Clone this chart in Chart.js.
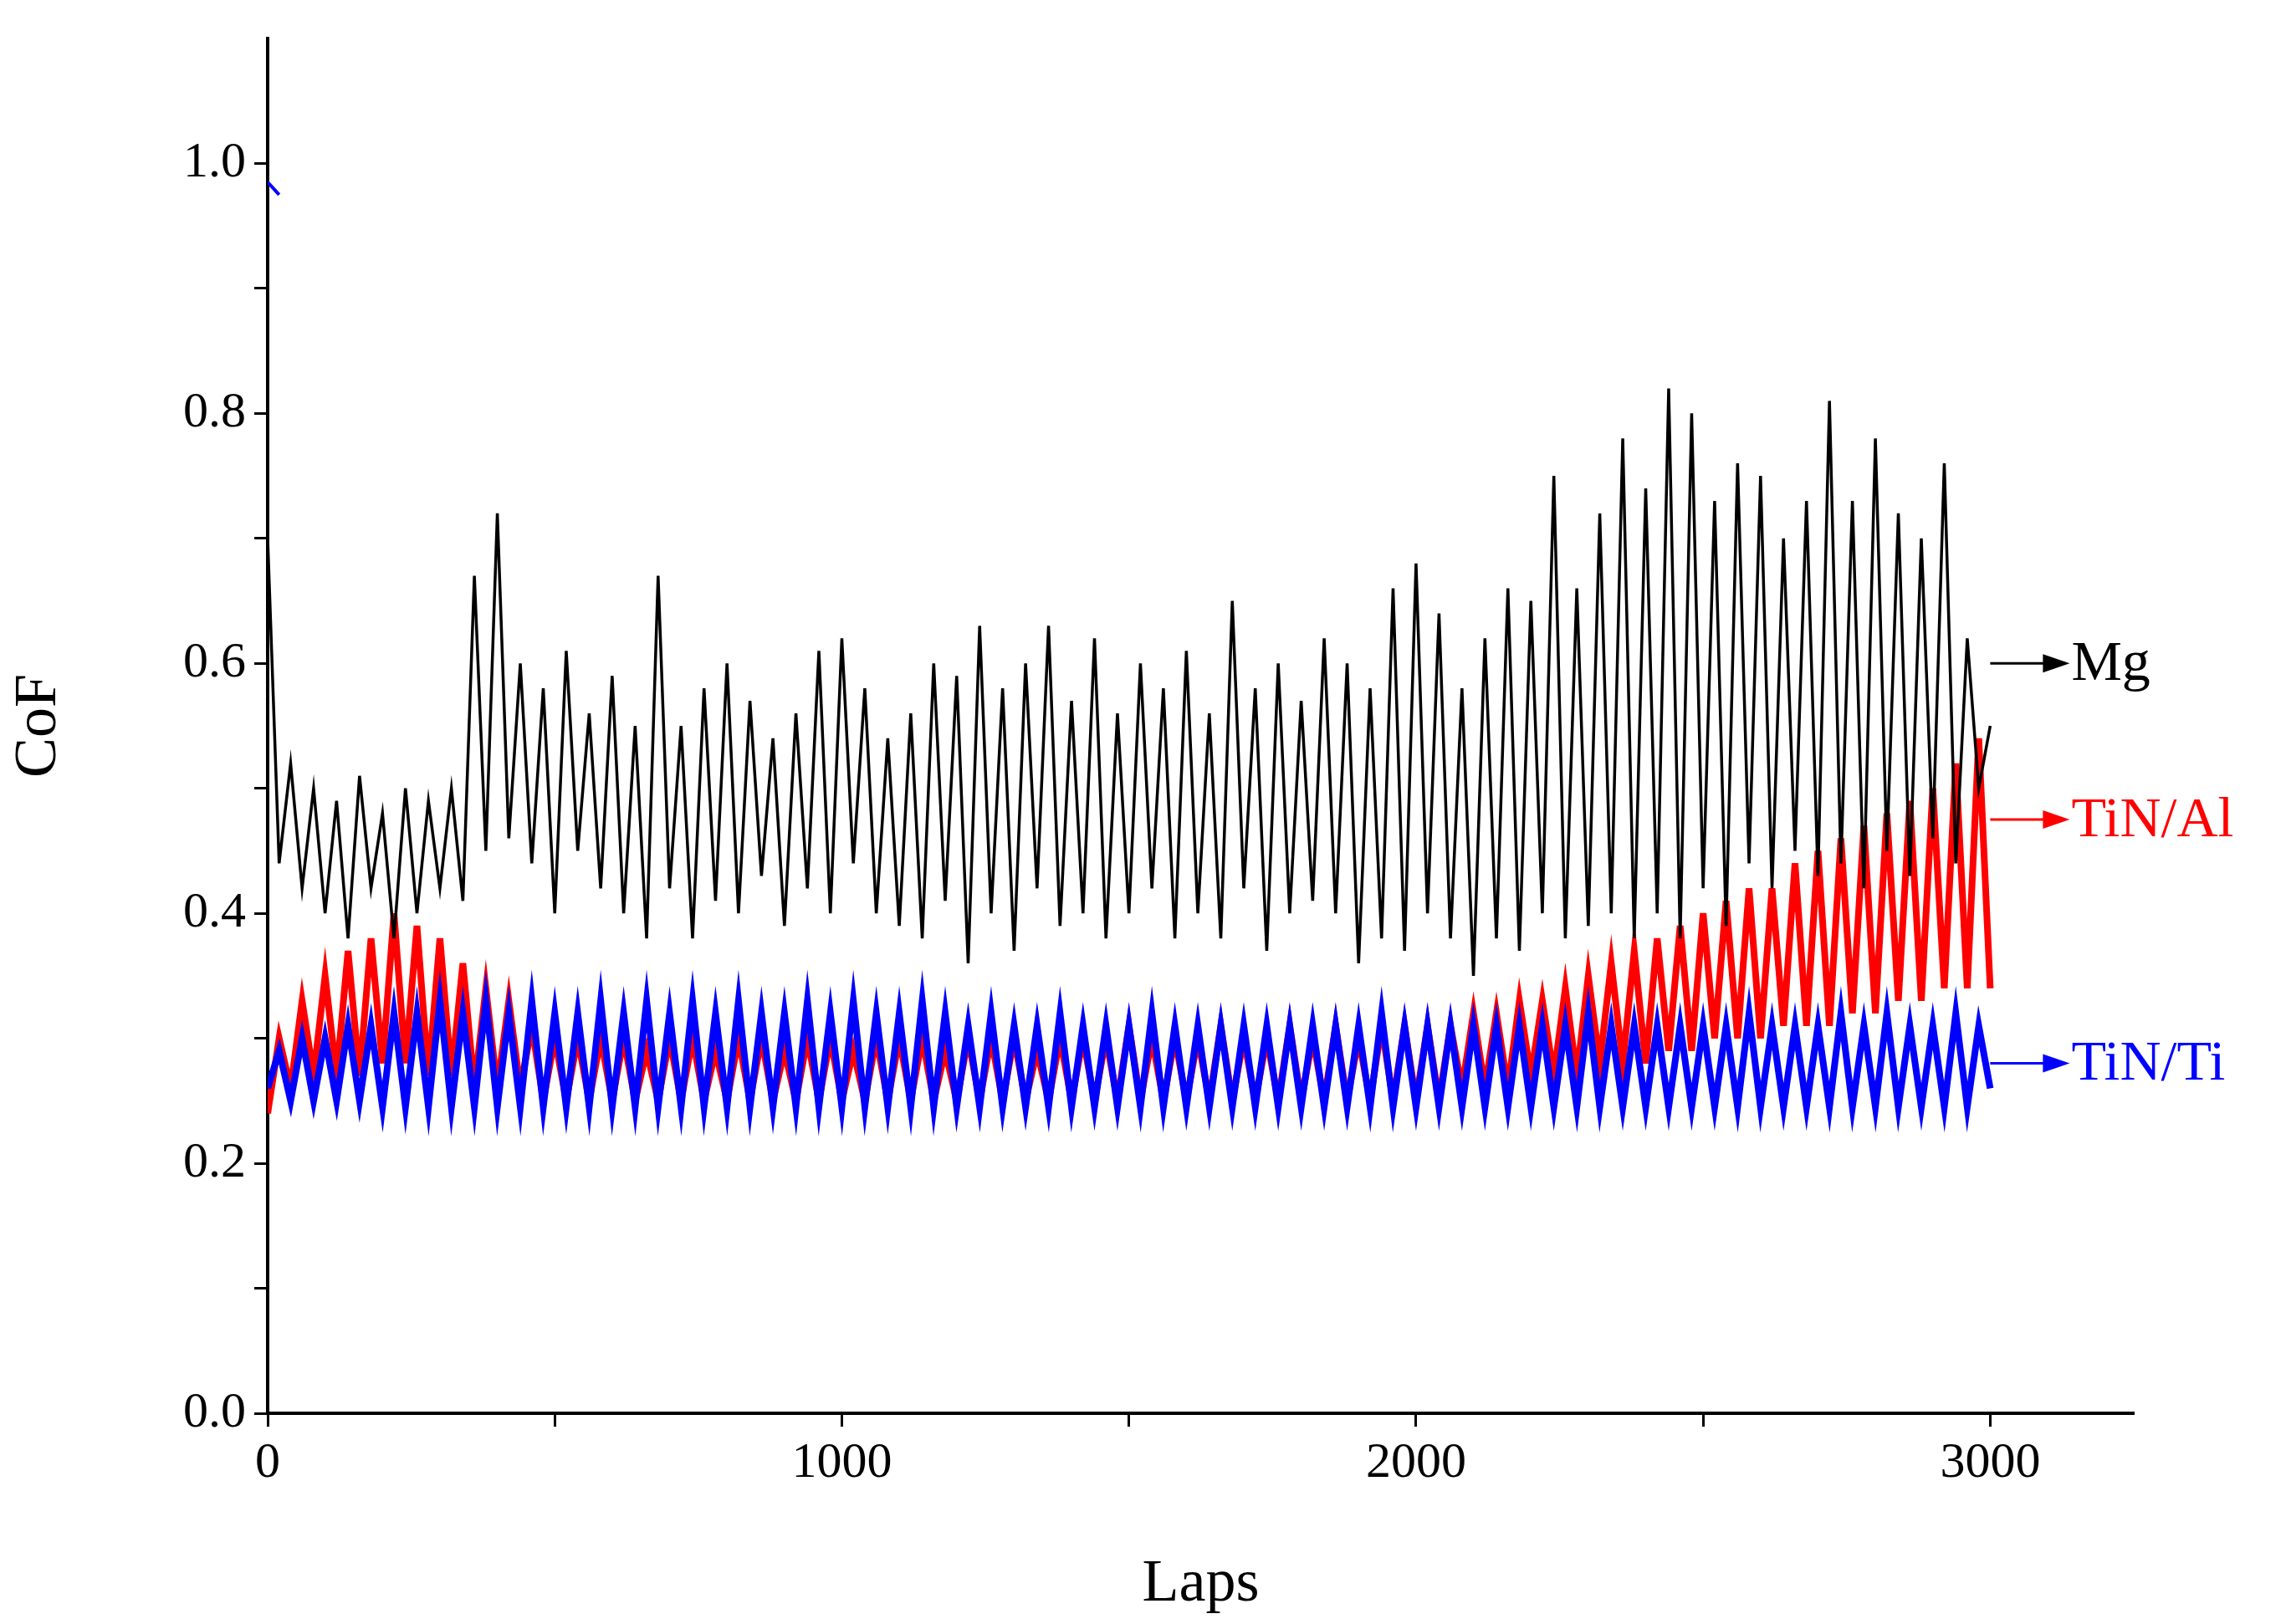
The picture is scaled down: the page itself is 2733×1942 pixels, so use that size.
<!DOCTYPE html>
<html>
<head>
<meta charset="utf-8">
<script src="https://cdn.jsdelivr.net/npm/chart.js@4/dist/chart.umd.min.js"></script>
<style>
html, body { margin: 0; padding: 0; background: #fff; }
#wrap { width: 2733px; height: 1942px; }
</style>
</head>
<body>
<div id="wrap"><canvas id="cof"></canvas></div>
<script>
// laps sampled every 20 from 0 to 3000
const laps = Array.from({ length: 151 }, (_, i) => i * 20);

const mgCoF = [
  0.70,0.44,0.52,0.42,0.50,0.40,0.49,0.38,0.51,0.42,
  0.48,0.38,0.50,0.40,0.49,0.42,0.50,0.41,0.67,0.45,
  0.72,0.46,0.60,0.44,0.58,0.40,0.61,0.45,0.56,0.42,
  0.59,0.40,0.55,0.38,0.67,0.42,0.55,0.38,0.58,0.41,
  0.60,0.40,0.57,0.43,0.54,0.39,0.56,0.42,0.61,0.40,
  0.62,0.44,0.58,0.40,0.54,0.39,0.56,0.38,0.60,0.41,
  0.59,0.36,0.63,0.40,0.58,0.37,0.60,0.42,0.63,0.39,
  0.57,0.40,0.62,0.38,0.56,0.40,0.60,0.42,0.58,0.38,
  0.61,0.40,0.56,0.38,0.65,0.42,0.58,0.37,0.60,0.40,
  0.57,0.41,0.62,0.40,0.60,0.36,0.58,0.38,0.66,0.37,
  0.68,0.40,0.64,0.38,0.58,0.35,0.62,0.38,0.66,0.37,
  0.65,0.40,0.75,0.38,0.66,0.39,0.72,0.40,0.78,0.38,
  0.74,0.40,0.82,0.38,0.80,0.42,0.73,0.39,0.76,0.44,
  0.75,0.42,0.70,0.45,0.73,0.43,0.81,0.44,0.73,0.42,
  0.78,0.45,0.72,0.43,0.70,0.46,0.76,0.44,0.62,0.50,
  0.55
];

const tinAlCoF = [
  0.24,0.30,0.26,0.33,0.27,0.35,0.27,0.37,0.27,0.38,
  0.28,0.40,0.28,0.39,0.27,0.38,0.27,0.36,0.26,0.34,
  0.26,0.33,0.26,0.31,0.25,0.30,0.25,0.30,0.25,0.30,
  0.25,0.30,0.25,0.29,0.25,0.30,0.25,0.30,0.25,0.29,
  0.25,0.30,0.25,0.30,0.25,0.29,0.25,0.30,0.25,0.30,
  0.25,0.29,0.25,0.30,0.25,0.30,0.25,0.30,0.25,0.29,
  0.25,0.30,0.25,0.30,0.25,0.30,0.25,0.29,0.25,0.30,
  0.25,0.30,0.25,0.30,0.25,0.31,0.25,0.30,0.25,0.30,
  0.25,0.30,0.25,0.31,0.25,0.30,0.25,0.30,0.25,0.31,
  0.25,0.30,0.25,0.31,0.25,0.30,0.25,0.31,0.25,0.31,
  0.25,0.31,0.25,0.31,0.26,0.32,0.26,0.32,0.26,0.33,
  0.27,0.33,0.27,0.34,0.27,0.35,0.28,0.36,0.28,0.37,
  0.28,0.38,0.29,0.39,0.29,0.40,0.30,0.41,0.30,0.42,
  0.30,0.42,0.31,0.44,0.31,0.45,0.31,0.46,0.32,0.47,
  0.32,0.48,0.33,0.49,0.33,0.50,0.34,0.52,0.34,0.54,
  0.34
];

const tinTiCoF = [
  0.26,0.29,0.25,0.30,0.25,0.30,0.25,0.31,0.25,0.31,
  0.245,0.32,0.245,0.32,0.245,0.33,0.245,0.32,0.245,0.33,
  0.245,0.32,0.245,0.33,0.245,0.32,0.245,0.32,0.245,0.33,
  0.245,0.32,0.245,0.33,0.245,0.32,0.245,0.33,0.245,0.32,
  0.245,0.33,0.245,0.32,0.245,0.32,0.245,0.33,0.245,0.32,
  0.245,0.33,0.245,0.32,0.245,0.32,0.245,0.33,0.245,0.32,
  0.245,0.31,0.245,0.32,0.245,0.31,0.245,0.31,0.245,0.32,
  0.245,0.31,0.245,0.31,0.245,0.31,0.245,0.32,0.245,0.31,
  0.245,0.31,0.245,0.31,0.245,0.31,0.245,0.31,0.245,0.31,
  0.245,0.31,0.245,0.31,0.245,0.31,0.245,0.32,0.245,0.31,
  0.245,0.31,0.245,0.31,0.245,0.31,0.245,0.31,0.245,0.31,
  0.245,0.31,0.245,0.31,0.245,0.32,0.245,0.31,0.245,0.31,
  0.245,0.31,0.245,0.31,0.245,0.31,0.245,0.31,0.245,0.32,
  0.245,0.31,0.245,0.31,0.245,0.31,0.245,0.32,0.245,0.31,
  0.245,0.32,0.245,0.31,0.245,0.31,0.245,0.32,0.245,0.31,
  0.26
];

// short blue start segment near 1.0
const tinTiStartLaps = [0, 20];
const tinTiStartCoF = [0.985, 0.975];

const seriesLabels = ['Mg', 'TiN/Al', 'TiN/Ti'];
const labelAt = [0.60, 0.475, 0.28];
const seriesColors = ['#000000', '#ff0000', '#0000ff'];

const FONT = '"Liberation Serif", "Times New Roman", serif';
const pts = (xs, ys) => xs.map((x, i) => ({ x: x, y: ys[i] }));

// arrows + labels at the right end of the curves
const endLabels = {
  id: 'endLabels',
  afterDatasetsDraw(chart) {
    const ctx = chart.ctx;
    const xs = chart.scales.x, ys = chart.scales.y;
    ctx.save();
    seriesLabels.forEach((name, i) => {
      const y = ys.getPixelForValue(labelAt[i]);
      const x0 = xs.getPixelForValue(3000);
      const x1 = x0 + 95;
      ctx.strokeStyle = seriesColors[i];
      ctx.fillStyle = seriesColors[i];
      ctx.lineWidth = 3;
      ctx.beginPath(); ctx.moveTo(x0, y); ctx.lineTo(x1 - 20, y); ctx.stroke();
      ctx.beginPath(); ctx.moveTo(x1, y); ctx.lineTo(x1 - 32, y - 11); ctx.lineTo(x1 - 32, y + 11); ctx.closePath(); ctx.fill();
      ctx.font = '68px ' + FONT;
      ctx.textBaseline = 'middle';
      ctx.fillText(name, x1 + 2, y + 2);
    });
    ctx.restore();
  }
};

new Chart(document.getElementById('cof'), {
  type: 'line',
  data: {
    datasets: [
      { label: 'Mg', data: pts(laps, mgCoF), borderColor: '#000', borderWidth: 3.5, order: 0 },
      { label: 'TiN/Ti', data: pts(laps, tinTiCoF), borderColor: '#0000ff', borderWidth: 8, order: 1 },
      { label: 'TiN/Ti start', data: pts(tinTiStartLaps, tinTiStartCoF), borderColor: '#0000ff', borderWidth: 4, order: 1 },
      { label: 'TiN/Al', data: pts(laps, tinAlCoF), borderColor: '#ff0000', borderWidth: 8, order: 2 }
    ]
  },
  options: {
    responsive: true,
    maintainAspectRatio: false,
    animation: false,
    elements: { point: { radius: 0 }, line: { tension: 0 } },
    layout: { padding: { top: 35, right: 182, left: 0, bottom: 0 } },
    plugins: { legend: { display: false }, tooltip: { enabled: false } },
    scales: {
      x: {
        type: 'linear', min: 0, max: 3250,
        afterBuildTicks: s => { s.ticks = [0, 500, 1000, 1500, 2000, 2500, 3000].map(v => ({ value: v })); },
        afterFit: s => { s.height = 252; },
        border: { color: '#000', width: 4 },
        grid: { drawOnChartArea: false, tickLength: 16, tickColor: '#000', tickWidth: 3 },
        ticks: {
          color: '#000', font: { family: FONT, size: 60 }, maxRotation: 0, padding: 8,
          callback: v => (v % 1000 === 0 ? v : '')
        },
        title: { display: true, text: 'Laps', color: '#000', font: { family: FONT, size: 72 }, padding: { top: 40 } }
      },
      y: {
        type: 'linear', min: 0, max: 1.1,
        afterBuildTicks: s => { s.ticks = [0, 0.1, 0.2, 0.3, 0.4, 0.5, 0.6, 0.7, 0.8, 0.9, 1.0].map(v => ({ value: v })); },
        afterFit: s => { s.width = 320; },
        border: { color: '#000', width: 4 },
        grid: { drawOnChartArea: false, tickLength: 16, tickColor: '#000', tickWidth: 3 },
        ticks: {
          color: '#000', font: { family: FONT, size: 60 }, padding: 10,
          callback: v => (Math.round(v * 10) % 2 === 0 ? v.toFixed(1) : '')
        },
        title: { display: true, text: 'CoF', color: '#000', font: { family: FONT, size: 72 }, padding: { bottom: 40 } }
      }
    }
  },
  plugins: [endLabels]
});
</script>
</body>
</html>
